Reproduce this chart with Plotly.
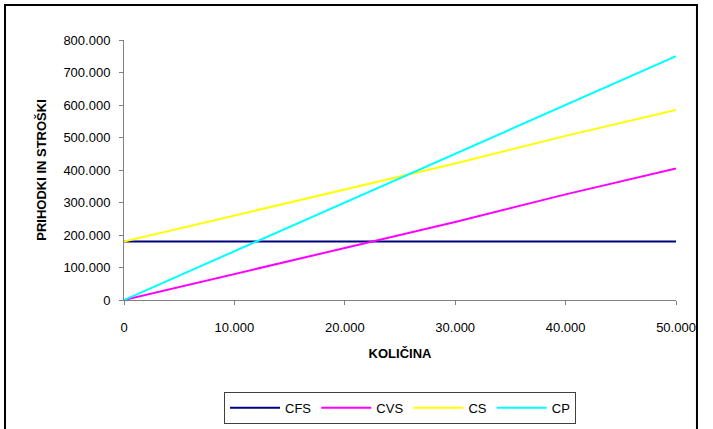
import plotly.graph_objects as go

# Quantity produced / sold
kolicina = [0, 10000, 20000, 30000, 40000, 50000]

# Fixed costs, variable costs, total costs and revenue
cfs = [180000, 180000, 180000, 180000, 180000, 180000]
cvs = [0, 80000, 160000, 240000, 325000, 405000]
cs = [180000, 260000, 340000, 420000, 505000, 585000]
cp = [0, 150000, 300000, 450000, 600000, 750000]

series = [
    ("CFS", cfs, "#000080"),
    ("CVS", cvs, "#FF00FF"),
    ("CS", cs, "#FFFF00"),
    ("CP", cp, "#00FFFF"),
]

x_ticks = [0, 10000, 20000, 30000, 40000, 50000]
y_ticks = [0, 100000, 200000, 300000, 400000, 500000, 600000, 700000, 800000]

font_family = "Liberation Sans, Arial, sans-serif"
axis_grey = "#808080"

fig = go.Figure()
for name, values, color in series:
    fig.add_trace(go.Scatter(
        x=kolicina, y=values, name=name, mode="lines",
        line=dict(color=color, width=2),
    ))

fig.update_layout(
    width=713, height=429,
    margin=dict(l=124, r=37, t=40, b=129, autoexpand=False),
    paper_bgcolor="white", plot_bgcolor="white",
    separators=",.",
    font=dict(family=font_family, size=13, color="black"),
    showlegend=True,
    legend=dict(
        orientation="h",
        x=0.5, xanchor="center",
        y=-0.415, yanchor="middle",
        bordercolor="#404040", borderwidth=1,
        font=dict(family=font_family, size=13, color="black"),
        itemwidth=50,
        traceorder="normal",
    ),
    xaxis=dict(
        range=[0, 50000],
        tickvals=x_ticks,
        tickformat=",d",
        showgrid=False, zeroline=False,
        showline=True, linecolor=axis_grey, linewidth=1,
        ticks="outside", ticklen=4, tickcolor=axis_grey,
        ticklabelstandoff=11,
        title=dict(text="<b>KOLIČINA</b>", standoff=15,
                   font=dict(family=font_family, size=13)),
    ),
    yaxis=dict(
        range=[0, 800000],
        tickvals=y_ticks,
        tickformat=",d",
        showgrid=False, zeroline=False,
        showline=True, linecolor=axis_grey, linewidth=1,
        ticks="outside", ticklen=4, tickcolor=axis_grey,
        ticklabelstandoff=6,
        title=dict(text="<b>PRIHODKI IN STROŠKI</b>", standoff=13,
                   font=dict(family=font_family, size=13)),
    ),
)

# Outer frame of the chart
fig.add_shape(
    type="rect", xref="paper", yref="paper",
    x0=-0.2156, x1=1.038, y0=-0.56, y1=1.1346,
    line=dict(color="black", width=2), fillcolor="rgba(0,0,0,0)",
    layer="below",
)

fig.write_html("out.html")
